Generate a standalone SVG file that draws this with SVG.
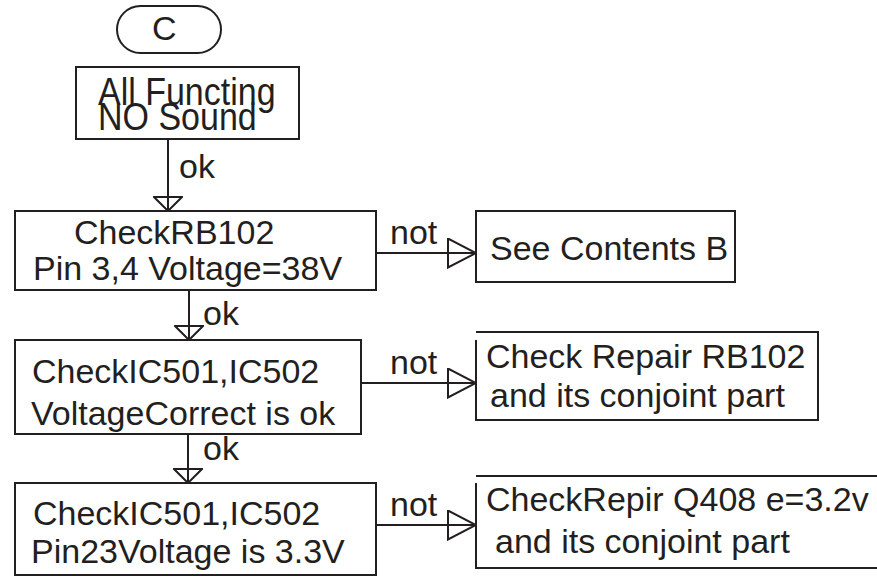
<svg xmlns="http://www.w3.org/2000/svg" width="877" height="579" viewBox="0 0 877 579">
<style>
.b{fill:none;stroke:#231f20;stroke-width:2}
.t{font-family:"Liberation Sans",Arial,sans-serif;font-size:34px;fill:#231f20}
.c{fill:none;stroke:#231f20;stroke-width:2}
</style>
<defs>
<marker id="arrH" markerUnits="userSpaceOnUse" viewBox="0 0 30 31" markerWidth="30" markerHeight="31" refX="29" refY="15.5" orient="auto">
<path d="M1,1 L29,15.5 L1,30 Z" fill="none" stroke="#231f20" stroke-width="2"/>
</marker>
<marker id="arrV" markerUnits="userSpaceOnUse" viewBox="0 0 16 30" markerWidth="16" markerHeight="30" refX="15" refY="15" orient="auto">
<path d="M1,1 L15,15 L1,29 Z" fill="none" stroke="#231f20" stroke-width="2"/>
</marker>
</defs>
<rect width="877" height="579" fill="#fff"/>
<g id="start">
<rect class="b" x="117" y="6" width="104" height="47" rx="23.5"/>
<text class="t" x="152" y="40" font-size="36">C</text>
</g>
<g id="n1">
<rect class="b" x="76" y="67" width="223" height="72"/>
<text class="t" transform="translate(98,105) scale(1,1.12)">All Functing</text>
<text class="t" transform="translate(98,130) scale(1,1.12)">NO Sound</text>
</g>
<g id="n2">
<rect class="b" x="15" y="211" width="361" height="79"/>
<text class="t" x="74" y="244">CheckRB102</text>
<text class="t" x="33" y="280">Pin 3,4 Voltage=38V</text>
</g>
<g id="n3">
<path class="b" d="M476,211 H735 V282 H476 Z"/>
<text class="t" x="490" y="260">See Contents B</text>
</g>
<g id="n4">
<rect class="b" x="15" y="340" width="346" height="94"/>
<text class="t" x="32" y="383">CheckIC501,IC502</text>
<text class="t" x="31" y="425">VoltageCorrect is ok</text>
</g>
<g id="n5">
<path class="b" d="M476,332 H818 V420 H476 V340"/>
<text class="t" x="486" y="368">Check Repair RB102</text>
<text class="t" x="490" y="407">and its conjoint part</text>
</g>
<g id="n6">
<rect class="b" x="15" y="483" width="361" height="92"/>
<text class="t" x="33" y="525">CheckIC501,IC502</text>
<text class="t" x="31" y="563">Pin23Voltage is 3.3V</text>
</g>
<g id="n7">
<path class="b" d="M476,476 H877 M877,568 H476 V483"/>
<text class="t" x="486" y="511">CheckRepir Q408 e=3.2v</text>
<text class="t" x="495" y="553">and its conjoint part</text>
</g>
<g id="connectors">
<line class="c" x1="168" y1="139" x2="168" y2="211" marker-end="url(#arrV)"/>
<text class="t" x="179" y="178">ok</text>
<line class="c" x1="189" y1="290" x2="189" y2="340" marker-end="url(#arrV)"/>
<text class="t" x="203" y="325">ok</text>
<line class="c" x1="188" y1="434" x2="188" y2="483" marker-end="url(#arrV)"/>
<text class="t" x="203" y="460">ok</text>
<line class="c" x1="376" y1="253" x2="476" y2="253" marker-end="url(#arrH)"/>
<text class="t" x="390" y="244">not</text>
<line class="c" x1="361" y1="383" x2="476" y2="383" marker-end="url(#arrH)"/>
<text class="t" x="390" y="374">not</text>
<line class="c" x1="376" y1="525" x2="476" y2="525" marker-end="url(#arrH)"/>
<text class="t" x="390" y="516">not</text>
</g>
</svg>
